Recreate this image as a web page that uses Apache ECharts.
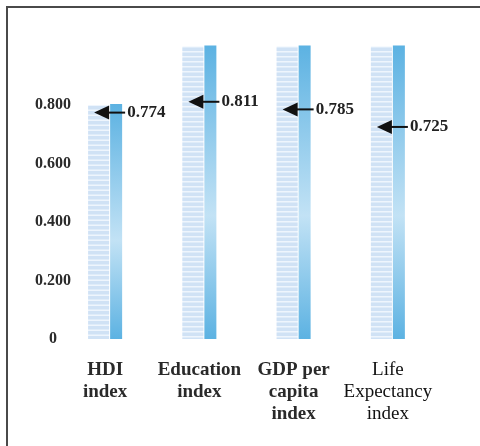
<!DOCTYPE html>
<html>
<head>
<meta charset="utf-8">
<script src="https://cdn.jsdelivr.net/npm/echarts@6/dist/echarts.min.js"></script>
<style>
  html, body { margin: 0; padding: 0; background: #ffffff; }
  #chart { width: 480px; height: 446px; }
</style>
</head>
<body>
<div id="chart"></div>
<script>
// Component indices and the extent of each scale column
const categories = ['HDI\nindex', 'Education\nindex', 'GDP per\ncapita\nindex', 'Life\nExpectancy\nindex'];
const categoryBold = [true, true, true, false];
const scaleTop = [0.8, 1.0, 1.0, 1.0];
const indexValues = [0.774, 0.811, 0.785, 0.725];
const yTickLabels = ['0', '0.200', '0.400', '0.600', '0.800'];

const chart = echarts.init(document.getElementById('chart'), null, { renderer: 'canvas' });

const serif = "'Liberation Serif', 'DejaVu Serif', serif";

// Striped scale column with a shaded glass strip on its right side
function renderColumn(params, api) {
  const i = api.value(0);
  const base = api.coord([i, 0]);
  const top = api.coord([i, api.value(1)]);
  const cx = base[0];
  const h = base[1] - top[1];
  const children = [{
    type: 'rect',
    shape: { x: cx - 17, y: top[1], width: 21, height: h },
    style: { fill: '#eef5fd' }
  }];
  for (let y = top[1] + 1; y < base[1] - 1; y += 5) {
    children.push({
      type: 'rect',
      shape: { x: cx - 17, y: y, width: 21, height: Math.min(3.5, base[1] - y) },
      style: { fill: '#d0e2f5' }
    });
  }
  children.push({
    type: 'rect',
    shape: { x: cx + 5, y: top[1] - 1, width: 12, height: h + 1 },
    style: {
      fill: new echarts.graphic.LinearGradient(0, 0, 0, 1, [
        { offset: 0, color: '#5cb2e2' },
        { offset: 0.58, color: '#c2e2f5' },
        { offset: 1, color: '#5cb2e2' }
      ])
    }
  });
  return { type: 'group', children: children };
}

// Arrow pointing at the index value, with its value written beside it
function renderArrow(params, api) {
  const i = api.value(0);
  const v = api.value(1);
  const p = api.coord([i, v]);
  const cx = p[0];
  const y = p[1];
  return {
    type: 'group',
    children: [
      {
        type: 'line',
        shape: { x1: cx, y1: y, x2: cx + 20, y2: y },
        style: { stroke: '#111', lineWidth: 2 }
      },
      {
        type: 'polygon',
        shape: { points: [[cx - 11, y], [cx + 4, y - 7], [cx + 4, y + 7]] },
        style: { fill: '#111' }
      },
      {
        type: 'text',
        style: {
          text: v.toFixed(3),
          x: cx + 22,
          y: y,
          align: 'left',
          verticalAlign: 'middle',
          font: "bold 17px " + serif,
          fill: '#222'
        }
      }
    ]
  };
}

const option = {
  animation: false,
  backgroundColor: '#ffffff',
  grid: { left: 58, right: 45, top: 46.5, bottom: 107 },
  xAxis: {
    type: 'category',
    data: categories.map((c, i) => ({
      value: c,
      textStyle: {
        fontWeight: categoryBold[i] ? 'bold' : 'normal',
        color: categoryBold[i] ? '#2a2a2a' : '#111'
      }
    })),
    axisLine: { show: false },
    axisTick: { show: false },
    axisLabel: {
      interval: 0,
      margin: 20,
      fontFamily: serif,
      fontSize: 19,
      lineHeight: 22,
      color: '#222'
    }
  },
  yAxis: {
    type: 'value',
    min: 0,
    max: 1.0,
    interval: 0.2,
    offset: -25,
    axisLine: { show: false },
    axisTick: { show: false },
    splitLine: { show: false },
    axisLabel: {
      align: 'center',
      margin: 30,
      fontFamily: serif,
      fontWeight: 'bold',
      fontSize: 16,
      color: '#2a2a2a',
      formatter: function (value) {
        const k = Math.round(value / 0.2);
        return k < yTickLabels.length ? yTickLabels[k] : '';
      }
    }
  },
  series: [
    {
      type: 'custom',
      renderItem: renderColumn,
      data: categories.map((c, i) => [i, scaleTop[i]]),
      z: 2
    },
    {
      type: 'custom',
      renderItem: renderArrow,
      data: categories.map((c, i) => [i, indexValues[i]]),
      z: 3
    }
  ],
  graphic: [
    {
      type: 'rect',
      shape: { x: 7, y: 7, width: 520, height: 500 },
      style: { fill: null, stroke: '#4a4a4a', lineWidth: 2 },
      silent: true
    }
  ]
};

chart.setOption(option);
</script>
</body>
</html>
